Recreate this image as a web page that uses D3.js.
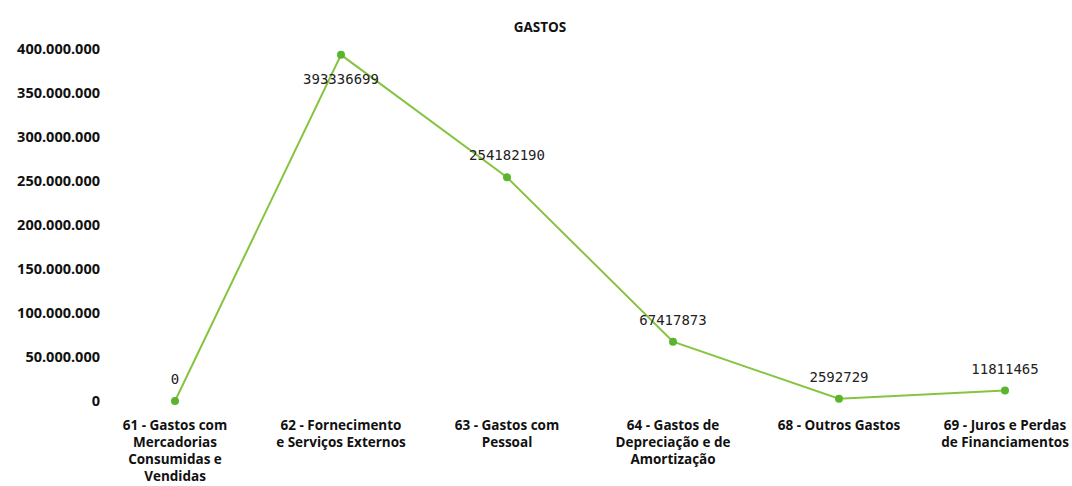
<!DOCTYPE html>
<html>
<head>
<meta charset="utf-8">
<script src="https://cdn.jsdelivr.net/npm/d3@7"></script>
<style>
    body { margin: 0; background: #fff; }
    text { font-family: "Open Sans", "Noto Sans", sans-serif; }
</style>
</head>
<body>
<div id="chart"></div>
<script>
// chart data
var categories = [
    "61 - Gastos com\nMercadorias\nConsumidas e\nVendidas",
    "62 - Fornecimento\ne Serviços Externos",
    "63 - Gastos com\nPessoal",
    "64 - Gastos de\nDepreciação e de\nAmortização",
    "68 - Outros Gastos",
    "69 - Juros e Perdas\nde Financiamentos"
];
var values = [0, 393336699, 254182190, 67417873, 2592729, 11811465];
var yTicks = [0, 50000000, 100000000, 150000000, 200000000, 250000000, 300000000, 350000000, 400000000];
var title = "GASTOS";

var svgWidth = 1072;
var svgHeight = 486;

var margin = { top: 49, bottom: 85, left: 92, right: -16 };

var svg = d3.select("#chart")
    .append("svg")
    .attr("width", svgWidth)
    .attr("height", svgHeight);

// pt-PT style number format: 400.000.000
var locale = d3.formatLocale({ decimal: ",", thousands: ".", grouping: [3], currency: ["", ""] });
var fmt = locale.format(",d");

var xScale = d3.scaleBand()
    .domain(categories)
    .range([margin.left, svgWidth - margin.right])
    .padding(0);

var yScale = d3.scaleLinear()
    .domain([0, 400000000])
    .range([svgHeight - margin.bottom, margin.top]);

var cx = d => xScale(d) + xScale.bandwidth() / 2;

// title
svg.append("text")
    .attr("x", 540)
    .attr("y", 32)
    .attr("text-anchor", "middle")
    .style("font-weight", "bold")
    .style("font-size", "13.5px")
    .attr("fill", "#111")
    .text(title);

// y axis, labels only
var yAxis = svg.append("g")
    .attr("transform", "translate(100,0)")
    .call(d3.axisLeft(yScale).tickValues(yTicks).tickFormat(fmt).tickSize(0).tickPadding(0));
yAxis.select(".domain").remove();
yAxis.selectAll("text")
    .style("font-family", "'Open Sans', sans-serif")
    .style("font-weight", "bold")
    .style("font-size", "14.5px")
    .attr("fill", "#111");

// x axis with wrapped category labels
var xAxis = svg.append("g")
    .attr("transform", `translate(0, ${svgHeight - margin.bottom})`)
    .call(d3.axisBottom(xScale).tickSize(0).tickPadding(0).tickFormat(""));
xAxis.select(".domain").remove();
xAxis.selectAll(".tick text").remove();
xAxis.selectAll(".tick").each(function(d) {
    var t = d3.select(this).append("text")
        .attr("text-anchor", "middle")
        .attr("y", 29)
        .style("font-weight", "bold")
        .style("font-size", "13.5px")
        .attr("fill", "#111");
    d.split("\n").forEach(function(line, i) {
        t.append("tspan").attr("x", 0).attr("dy", i === 0 ? 0 : 17).text(line);
    });
});

// line
var line = d3.line()
    .x((d, i) => cx(categories[i]))
    .y(d => yScale(d));

svg.append("path")
    .datum(values)
    .attr("d", line)
    .attr("fill", "none")
    .attr("stroke", "#86c440")
    .attr("stroke-width", 2);

// points
svg.selectAll(".pt")
    .data(values)
    .enter()
    .append("circle")
    .attr("class", "pt")
    .attr("cx", (d, i) => cx(categories[i]))
    .attr("cy", d => yScale(d))
    .attr("r", 4)
    .attr("fill", "#5ab52d");

// data labels (max one goes below the point)
var maxVal = d3.max(values);
svg.selectAll(".lbl")
    .data(values)
    .enter()
    .append("text")
    .attr("class", "lbl")
    .attr("x", (d, i) => cx(categories[i]))
    .attr("y", d => d === maxVal ? yScale(d) + 29 : yScale(d) - 17)
    .attr("text-anchor", "middle")
    .style("font-family", "'DejaVu Sans Mono', monospace")
    .style("font-size", "14px")
    .attr("fill", "#222")
    .text(d => d);
</script>
</body>
</html>
